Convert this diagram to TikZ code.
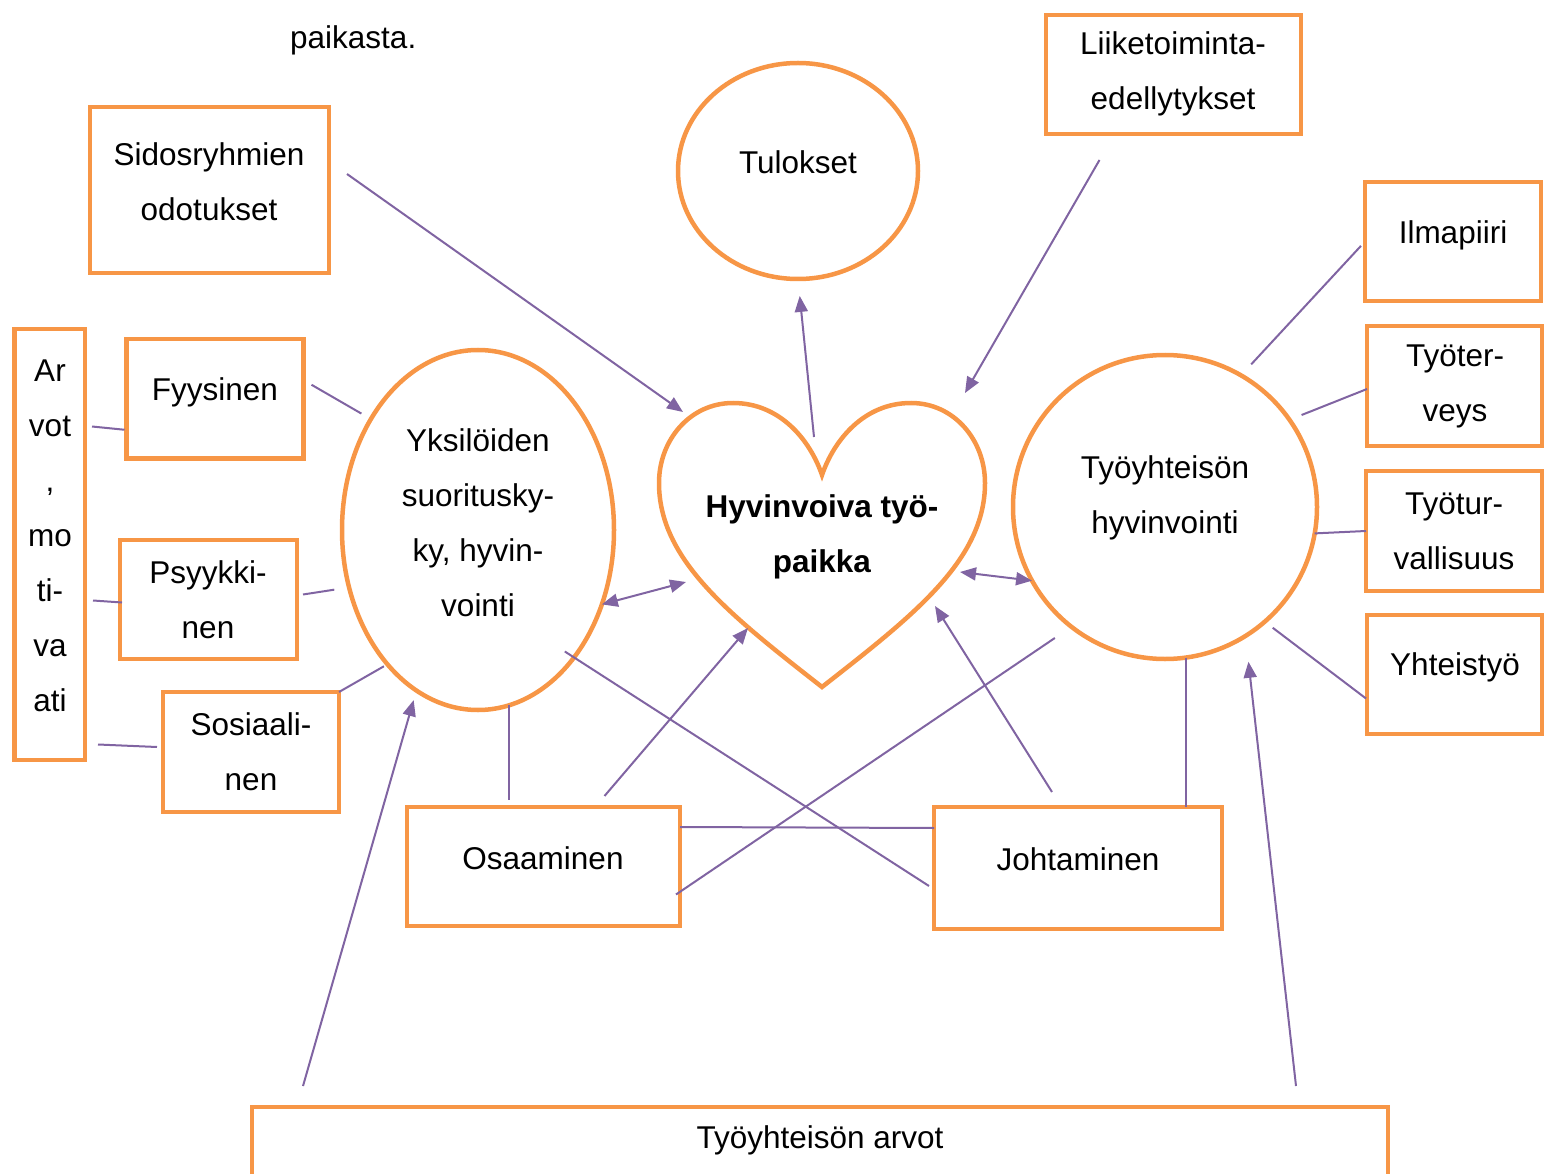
\documentclass[tikz,border=0pt]{standalone}
\usepackage{fontspec}
\setmainfont{Liberation Sans}
\usetikzlibrary{positioning,shapes.geometric,arrows.meta}
\definecolor{BoxOrange}{RGB}{247,150,70}
\definecolor{LinkPurple}{RGB}{128,100,162}
\tikzset{box/.style={draw=BoxOrange,line width=4.5pt,rectangle,inner sep=0pt,outer sep=0pt},
	oval/.style={draw=BoxOrange,line width=4.5pt,ellipse,inner sep=0pt,outer sep=0pt},
	txt/.style={align=center,inner sep=0pt,font=\fontsize{31.5}{55}\selectfont},
	ln/.style={draw=LinkPurple,line width=2pt},
	arr/.style={ln,-{Triangle[length=16pt,width=13pt]}},
	dbl/.style={ln,{Triangle[length=16pt,width=13pt]}-{Triangle[length=16pt,width=13pt]}}}

\begin{document}
\begin{tikzpicture}[x=1pt,y=-1pt]
	\useasboundingbox (0,0) rectangle (1545,1174);
	\node[txt,anchor=west] (paik) at (290,40) {paikasta.};
	\node[box,minimum width=255,minimum height=119] (liike) at (1173.5,74.5) {};
	\node[txt] (liiket) at (1173,74) {Liiketoiminta-\\edellytykset};
	\node[box,minimum width=239,minimum height=166] (sid) at (209.5,190) {};
	\node[txt] (sidt) at (209,182) {Sidosryhmien\\odotukset};
	\node[oval,minimum width=240,minimum height=216] (tul) at (798,171) {};
	\node[txt] (tult) at (798,162) {Tulokset};
	\node[box,minimum width=176,minimum height=119] (ilma) at (1453,241.5) {};
	\node[txt] (ilmat) at (1453,235) {Ilmapiiri};
	\node[box,minimum width=175,minimum height=120] (terv) at (1454.5,386) {};
	\node[txt] (tervt) at (1455,386) {Työter-\\veys};
	\node[box,minimum width=176,minimum height=120] (turv) at (1454,531) {};
	\node[txt] (turvt) at (1454,531) {Työtur-\\vallisuus};
	\node[box,minimum width=175,minimum height=119] (yht) at (1454.5,674.5) {};
	\node[txt] (yhtt) at (1455,667) {Yhteistyö};
	\node[box,minimum width=70.5,minimum height=431] (arvot) at (49.75,544.5) {};
	\node[txt] (arvott) at (50,536) {Ar\\vot\\,\\mo\\ti-\\va\\ati};
	\node[box,minimum width=177,minimum height=119.5] (fyys) at (215,398.75) {};
	\node[txt] (fyyst) at (215,392) {Fyysinen};
	\node[box,minimum width=177,minimum height=119] (psyk) at (208.5,599.5) {};
	\node[txt] (psykt) at (208,600) {Psyykki-\\nen};
	\node[box,minimum width=176,minimum height=120] (sos) at (251,752) {};
	\node[txt] (sost) at (251,752) {Sosiaali-\\nen};
	\node[oval,minimum width=272,minimum height=360] (yks) at (478,530) {};
	\node[txt] (ykst) at (478,523) {Yksilöiden\\suoritusky-\\ky, hyvin-\\vointi};
	\node[oval,minimum width=304,minimum height=304] (tyo) at (1165,507) {};
	\node[txt] (tyot) at (1165,498) {Työyhteisön\\hyvinvointi};
	\node[box,minimum width=273,minimum height=119] (osa) at (543.5,866.5) {};
	\node[txt] (osat) at (543,858) {Osaaminen};
	\node[box,minimum width=288,minimum height=122] (joht) at (1078,868) {};
	\node[txt] (johtt) at (1078,859) {Johtaminen};
	\node[box,minimum width=1136,minimum height=120] (tarvot) at (820,1167) {};
	\node[txt] (tarvott) at (820,1140) {Työyhteisön arvot};
	\draw[BoxOrange,line width=4.5pt] (822,475) .. controls (810,440) and (780,403) .. (733,403)
		.. controls (690,403) and (659,440) .. (659,483) .. controls (659,560) and (730,615) .. (822,687)
		.. controls (914,615) and (985,560) .. (985,483) .. controls (985,440) and (954,403) .. (911,403)
		.. controls (864,403) and (834,440) .. cycle;
	\node[txt] (hyv) at (822,537) {\textbf{Hyvinvoiva työ-}\\\textbf{paikka}};
	\coordinate (hsid) at (683,412);
	\coordinate (htul) at (814,437);
	\coordinate (hliike) at (965,393);
	\coordinate (hyks) at (686,582);
	\coordinate (htyo) at (960,572);
	\coordinate (hosa) at (748,628);
	\coordinate (hjoht) at (935,606);
	\draw[arr] ([shift={(18,-16)}]sid.east) -- (hsid);
	\draw[arr,shorten >=17pt] (htul) -- (tul.south);
	\draw[arr] ([shift={(-74,26)}]liike.south) -- (hliike);
	\draw[ln,shorten <=6pt,shorten >=15pt] (ilma.west) -- (tyo.60);
	\draw[ln,shorten >=13pt] ([yshift=-3pt]terv.west) -- (tyo.35);
	\draw[ln] (turv.west) -- (tyo.-10);
	\draw[ln,shorten >=10pt] ([shift={(-1,24)}]yht.west) -- (tyo.-49);
	\draw[ln] ([shift={(7,-118)}]arvot.east) -- ([shift={(-2,31)}]fyys.west);
	\draw[ln] ([shift={(8,56)}]arvot.east) -- ([shift={(2,3)}]psyk.west);
	\draw[ln] ([shift={(13,200)}]arvot.east) -- ([shift={(-6,-5)}]sos.west);
	\draw[ln,shorten >=11pt] ([shift={(8,-14)}]fyys.east) -- (yks.134);
	\draw[ln,shorten >=15pt] ([shift={(6,-5)}]psyk.east) -- (yks.204);
	\draw[ln,shorten >=4pt] (sos.north east) -- (yks.236);
	\draw[dbl] (yks.-31) -- (hyks);
	\draw[dbl] (htyo) -- (tyo.209);
	\draw[arr] ([shift={(61,-11)}]osa.north) -- (hosa);
	\draw[arr] ([shift={(-26,-15)}]joht.north) -- (hjoht);
	\draw[ln,shorten >=7pt] (yks.-80) -- (yks.-80 |- osa.north);
	\draw[ln] ([yshift=-20pt]osa.north east) -- ([yshift=-21pt]joht.north west);
	\draw[ln,shorten <=-11pt] (yks.-53) -- ([shift={(-5,18)}]joht.west);
	\draw[ln,shorten <=20pt] (tyo.232) -- ([shift={(-4,28)}]osa.east);
	\draw[ln] (tyo.-82) -- (tyo.-82 |- joht.north);
	\draw[arr,shorten >=10pt] ([shift={(51,-21)}]tarvot.north west) -- (yks.249);
	\draw[arr,shorten >=26pt] ([shift={(-92,-21)}]tarvot.north east) -- (tyo.-58);
\end{tikzpicture}
\end{document}
